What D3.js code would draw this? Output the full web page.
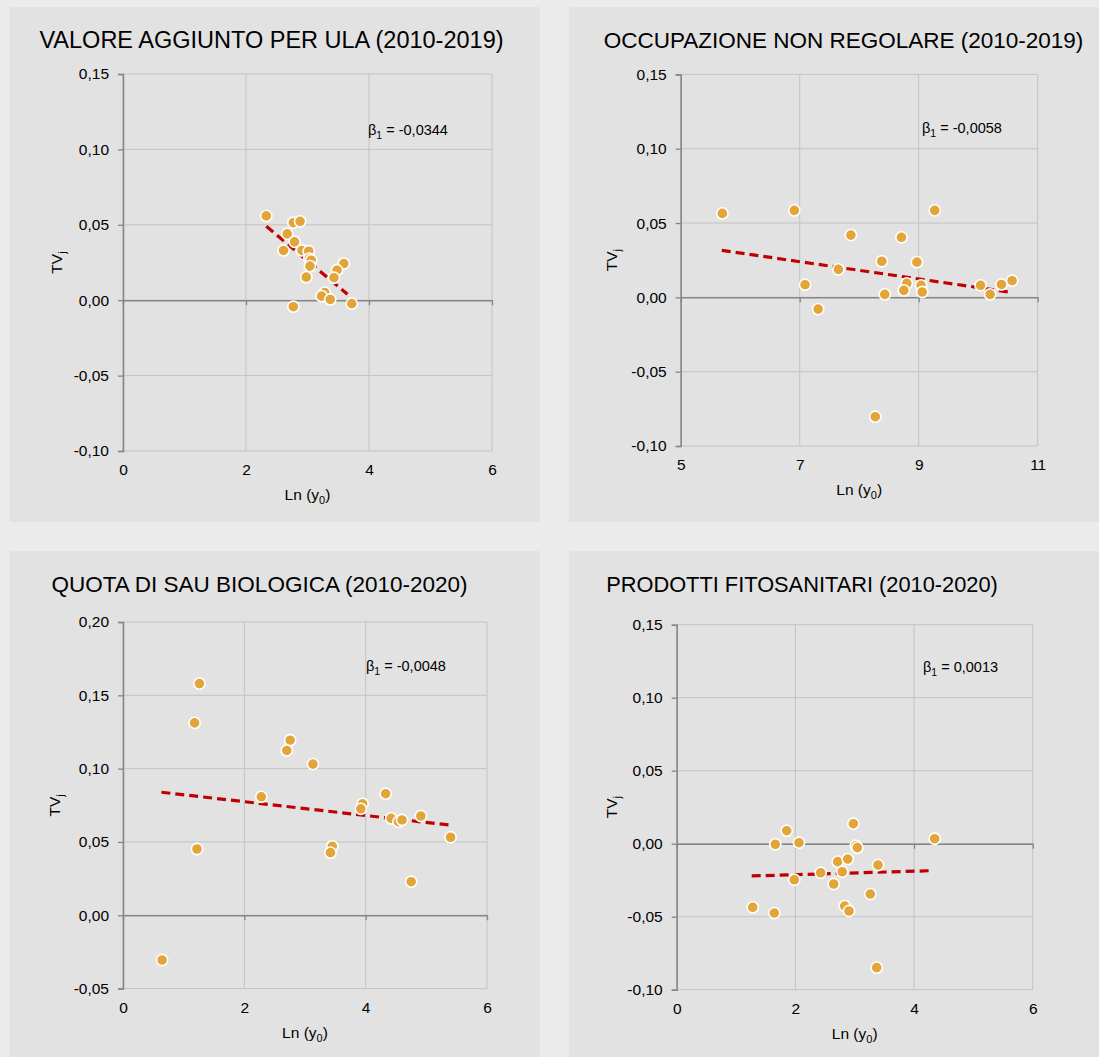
<!DOCTYPE html>
<html>
<head>
<meta charset="utf-8">
<script src="https://cdn.jsdelivr.net/npm/d3@7"></script>
<style>
  html, body { margin: 0; padding: 0; background: #ebebeb; }
  svg { display: block; }
  text { font-family: "Liberation Sans", Arial, sans-serif; fill: #000; }
</style>
</head>
<body>
<svg id="chart" width="1099" height="1057"></svg>
<script>
// ---------------- DATA ----------------
const titles = [
  "VALORE AGGIUNTO PER ULA (2010-2019)",
  "OCCUPAZIONE NON REGOLARE (2010-2019)",
  "QUOTA DI SAU BIOLOGICA (2010-2020)",
  "PRODOTTI FITOSANITARI (2010-2020)"
];
const betaLabels = ["-0,0344", "-0,0058", "-0,0048", "0,0013"];

const xTicksA = [0, 2, 4, 6];
const xTicksB = [5, 7, 9, 11];
const yTicksA = [-0.10, -0.05, 0.00, 0.05, 0.10, 0.15];
const yTicksB = [-0.05, 0.00, 0.05, 0.10, 0.15, 0.20];

// Panel 1: Valore aggiunto per ULA
const vaX = [2.33, 2.77, 2.88, 2.67, 2.79, 2.61, 2.91, 3.02, 3.03, 3.06, 3.04, 2.98, 3.59, 3.48, 3.43, 3.28, 3.23, 3.37, 2.77, 3.72];
const vaY = [0.0559, 0.0514, 0.0523, 0.0440, 0.0387, 0.0330, 0.0330, 0.0325, 0.0276, 0.0265, 0.0226, 0.0153, 0.0243, 0.0199, 0.0149, 0.0050, 0.0027, 0.0005, -0.0043, -0.0023];
const vaTrendX = [2.33, 3.65];
const vaTrendY = [0.049, 0.004];

// Panel 2: Occupazione non regolare
const onX = [5.70, 6.91, 9.27, 7.86, 8.71, 8.38, 8.97, 7.65, 7.09, 8.80, 8.75, 9.04, 9.06, 8.43, 10.04, 10.20, 10.39, 10.57, 7.31, 8.27];
const onY = [0.0565, 0.0585, 0.0585, 0.0419, 0.0404, 0.0243, 0.0237, 0.0188, 0.0085, 0.0094, 0.0047, 0.0081, 0.0036, 0.0020, 0.0081, 0.0020, 0.0087, 0.0112, -0.0079, -0.0803];
const onTrendX = [5.69, 10.55];
const onTrendY = [0.0316, 0.0034];

// Panel 3: Quota di SAU biologica
const sbX = [1.26, 1.18, 2.755, 2.70, 3.13, 2.28, 4.33, 3.95, 3.92, 4.42, 4.54, 4.60, 4.91, 5.40, 3.45, 3.42, 1.22, 4.75, 0.645];
const sbY = [0.158, 0.1312, 0.1194, 0.1124, 0.1031, 0.0808, 0.0829, 0.0760, 0.0726, 0.0661, 0.0638, 0.0650, 0.0677, 0.0532, 0.0470, 0.0427, 0.0452, 0.0229, -0.0305];
const sbTrendX = [0.633, 5.365];
const sbTrendY = [0.0839, 0.0616];

// Panel 4: Prodotti fitosanitari
const pfX = [2.977, 1.854, 1.662, 2.061, 3.017, 3.044, 4.348, 2.713, 2.882, 3.393, 2.427, 2.791, 1.982, 2.646, 3.263, 1.281, 1.645, 2.832, 2.904, 3.371];
const pfY = [0.0137, 0.0089, -0.0004, 0.0007, -0.0014, -0.0027, 0.0034, -0.0123, -0.0105, -0.0146, -0.0199, -0.0192, -0.0247, -0.0276, -0.0345, -0.0436, -0.0475, -0.0427, -0.0461, -0.0849];
const pfTrendX = [1.264, 4.281];
const pfTrendY = [-0.0221, -0.0185];

// ---------------- LAYOUT ----------------
const panels = [
  { rect: [10, 7, 530, 515], xr: [123, 492], yr: [451, 74], xd: [0, 6], yd: [-0.10, 0.15],
    xt: xTicksA, yt: yTicksA, X: vaX, Y: vaY, TX: vaTrendX, TY: vaTrendY,
    titleX: 271.5, titleY: 48, titleFS: 23.5, yLabX: 62, betaX: 368, betaY: 135 },
  { rect: [569, 7, 540, 515], xr: [680.7, 1037.7], yr: [446, 74.4], xd: [5, 11], yd: [-0.10, 0.15],
    xt: xTicksB, yt: yTicksA, X: onX, Y: onY, TX: onTrendX, TY: onTrendY,
    titleX: 843.5, titleY: 48, titleFS: 22.5, yLabX: 617, betaX: 922, betaY: 133 },
  { rect: [10, 551, 530, 520], xr: [123, 487], yr: [988.6, 622], xd: [0, 6], yd: [-0.05, 0.20],
    xt: xTicksA, yt: yTicksB, X: sbX, Y: sbY, TX: sbTrendX, TY: sbTrendY,
    titleX: 259.5, titleY: 592, titleFS: 22.5, yLabX: 60, betaX: 366, betaY: 671 },
  { rect: [569, 551, 540, 520], xr: [676.7, 1032.7], yr: [989.7, 624.7], xd: [0, 6], yd: [-0.10, 0.15],
    xt: xTicksA, yt: yTicksA, X: pfX, Y: pfY, TX: pfTrendX, TY: pfTrendY,
    titleX: 802, titleY: 592, titleFS: 21.8, yLabX: 617, betaX: 923, betaY: 672 }
];

const fmtY = v => (v < -1e-9 ? "-" : "") + Math.abs(v).toFixed(2).replace(".", ",");
const svg = d3.select("#chart");
const FS = 15.5;

panels.forEach((p, i) => {
  const g = svg.append("g");
  g.append("rect").attr("x", p.rect[0]).attr("y", p.rect[1])
    .attr("width", p.rect[2]).attr("height", p.rect[3]).attr("fill", "#e2e2e2");

  const x = d3.scaleLinear().domain(p.xd).range(p.xr);
  const y = d3.scaleLinear().domain(p.yd).range(p.yr);
  const [x0, x1] = p.xr, [yb, yt] = p.yr;

  // gridlines
  g.append("g").selectAll("line.vg").data(p.xt).join("line")
    .attr("x1", d => x(d)).attr("x2", d => x(d)).attr("y1", yt).attr("y2", yb)
    .attr("stroke", "#c3c3c3").attr("stroke-width", 1);
  g.append("g").selectAll("line.hg").data(p.yt).join("line")
    .attr("x1", x0).attr("x2", x1).attr("y1", d => y(d)).attr("y2", d => y(d))
    .attr("stroke", "#c3c3c3").attr("stroke-width", 1);

  // y axis (left) with outward ticks
  const yAxis = d3.axisLeft(y).tickValues(p.yt).tickFormat(fmtY).tickSize(5).tickPadding(9);
  const ya = g.append("g").attr("transform", `translate(${x0},0)`).call(yAxis);
  ya.select(".domain").attr("stroke", "#858585").attr("stroke-width", 1.5);
  ya.selectAll(".tick line").attr("stroke", "#858585").attr("stroke-width", 1.3);
  ya.selectAll(".tick text").attr("font-size", FS).attr("font-family", "Liberation Sans, Arial, sans-serif").attr("fill", "#000");

  // horizontal axis at y=0 with ticks downward, no labels
  const xAxis0 = d3.axisBottom(x).tickValues(p.xt).tickFormat("").tickSize(5).tickSizeOuter(0);
  const xa0 = g.append("g").attr("transform", `translate(0,${y(0)})`).call(xAxis0);
  xa0.select(".domain").attr("stroke", "#858585").attr("stroke-width", 1.5);
  xa0.selectAll(".tick line").attr("stroke", "#858585").attr("stroke-width", 1.3);

  // x tick labels at the bottom (low)
  const xAxisLow = d3.axisBottom(x).tickValues(p.xt).tickFormat(d3.format("d")).tickSize(0).tickPadding(13);
  const xl = g.append("g").attr("transform", `translate(0,${yb})`).call(xAxisLow);
  xl.select(".domain").remove();
  xl.selectAll(".tick text").attr("font-size", FS).attr("font-family", "Liberation Sans, Arial, sans-serif").attr("fill", "#000");

  // title
  g.append("text").attr("x", p.titleX).attr("y", p.titleY).attr("text-anchor", "middle")
    .attr("font-size", p.titleFS).text(titles[i]);

  // x label
  const xlab = g.append("text").attr("x", (x0 + x1) / 2).attr("y", yb + 49)
    .attr("text-anchor", "middle").attr("font-size", FS);
  xlab.append("tspan").text("Ln (y");
  xlab.append("tspan").attr("font-size", 11).attr("dy", 4).text("0");
  xlab.append("tspan").attr("dy", -4).text(")");

  // y label
  const ylab = g.append("text").attr("transform", `translate(${p.yLabX},${(yb + yt) / 2}) rotate(-90)`)
    .attr("text-anchor", "middle").attr("font-size", FS);
  ylab.append("tspan").text("TV");
  ylab.append("tspan").attr("font-size", 11).attr("dy", 4).text("j");

  // trend line
  const trend = p.TX.map((v, k) => [v, p.TY[k]]);
  g.append("path").datum(trend)
    .attr("d", d3.line().x(d => x(d[0])).y(d => y(d[1])))
    .attr("fill", "none").attr("stroke", "#c00000").attr("stroke-width", 3.2)
    .attr("stroke-dasharray", "9,5");

  // points
  const pts = p.X.map((v, k) => [v, p.Y[k]]);
  g.append("g").selectAll("circle").data(pts).join("circle")
    .attr("cx", d => x(d[0])).attr("cy", d => y(d[1])).attr("r", 5.6)
    .attr("fill", "#e2a53a").attr("stroke", "#ffffff").attr("stroke-width", 1.6);

  // beta label
  const b = g.append("text").attr("x", p.betaX).attr("y", p.betaY).attr("font-size", 14.5);
  b.append("tspan").text("β");
  b.append("tspan").attr("font-size", 10.5).attr("dy", 4).text("1");
  b.append("tspan").attr("dy", -4).text(" = " + betaLabels[i]);
});
</script>
</body>
</html>
